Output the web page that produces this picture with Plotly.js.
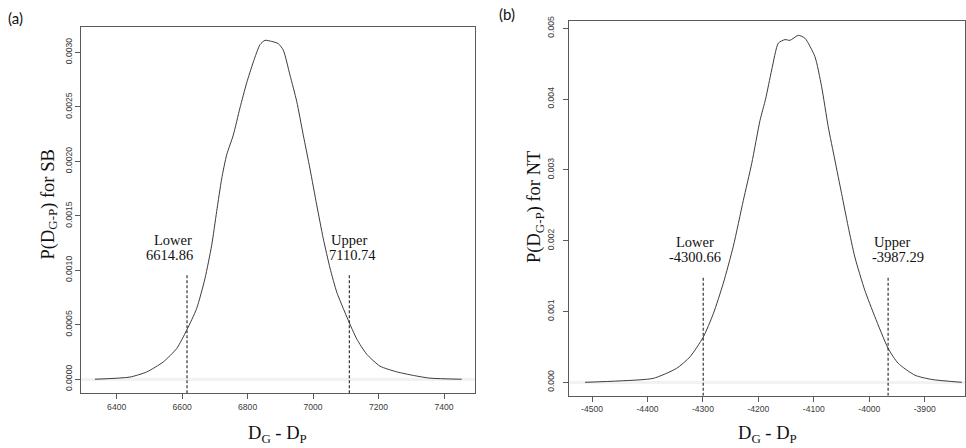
<!DOCTYPE html>
<html>
<head>
<meta charset="utf-8">
<script src="https://cdn.plot.ly/plotly-3.0.1.min.js"></script>
<style>
  html, body { margin: 0; padding: 0; background: #ffffff; }
  #chart { width: 966px; height: 448px; }
</style>
</head>
<body>
<div id="chart"></div>
<script>
// ---------- Panel (a): SB ----------
const sbX = [6333.7, 6440.6, 6491.7, 6542.4, 6583.3, 6613.9, 6644.4, 6669.8, 6690.3, 6705.5,
             6720.8, 6736.1, 6756.2, 6776.7, 6797.2, 6817.3, 6837.8, 6853.1, 6873.6, 6893.7,
             6909.0, 6929.5, 6950.0, 6970.1, 6990.6, 7011.1, 7031.2, 7051.7, 7072.2, 7092.3,
             7107.6, 7133.3, 7163.8, 7204.5, 7255.5, 7306.2, 7357.2, 7454.1];
const sbY = [0.0, 0.00002, 0.000067, 0.000159, 0.000282, 0.00045, 0.00065, 0.000925, 0.00123, 0.00154,
             0.00184, 0.00206, 0.00224, 0.00249, 0.00272, 0.00291, 0.00307, 0.00311, 0.00310, 0.00308,
             0.00302, 0.00279, 0.00255, 0.00224, 0.00193, 0.00160, 0.00129, 0.00102, 0.00080, 0.00065,
             0.00054, 0.00037, 0.000230, 0.000120, 0.000068, 0.000035, 0.000010, 0.0];
const sbBounds = [6614.86, 7110.74];
const sbBoundLabels = ["Lower", "Upper"];
const sbBoundTop = 0.00096;

// ---------- Panel (b): NT ----------
const ntX = [-4512.6, -4449.5, -4389.5, -4347.3, -4323.3, -4299.3, -4281.2, -4263.2, -4245.2, -4227.1,
             -4212.0, -4197.0, -4187.0, -4176.0, -4164.0, -4152.0, -4143.0, -4128.0, -4116.0, -4098.0,
             -4086.0, -4074.0, -4062.0, -4050.0, -4038.0, -4026.0, -4008.0, -3990.0, -3966.0, -3948.0,
             -3917.5, -3887.0, -3833.0];
const ntY = [0.0, 0.00002, 0.000056, 0.000198, 0.00036, 0.00064, 0.00097, 0.00140, 0.00192, 0.00257,
             0.00309, 0.00370, 0.00400, 0.00441, 0.00479, 0.00484, 0.00483, 0.00490, 0.00486, 0.00460,
             0.00418, 0.00361, 0.00314, 0.00267, 0.00220, 0.00177, 0.00130, 0.00093, 0.00048, 0.00027,
             0.00010, 0.00004, 0.0];
const ntBounds = [-4300.66, -3987.29];
const ntBoundLinesX = [-4299.5, -3966.0];   // where the dashed lines are drawn in the figure
const ntBoundLabels = ["Lower", "Upper"];
const ntBoundTop = 0.0015;

// tick labels
const sbXTicks = [6400, 6600, 6800, 7000, 7200, 7400];
const sbYTicks = [0, 0.0005, 0.001, 0.0015, 0.002, 0.0025, 0.003];
const ntXTicks = [-4500, -4400, -4300, -4200, -4100, -4000, -3900];
const ntXTickText = ["-4500", "-4400", "-4300", "-4200", "-4100", "-4000", "-3900"];
const ntYTicks = [0, 0.001, 0.002, 0.003, 0.004, 0.005];

const yA = [-0.000129, 0.003235];
const yB = [-0.000189, 0.005103];

const curveColor = '#3c3c3c';
const serif = '"Liberation Serif", "Times New Roman", serif';
const sans = '"Liberation Sans", Arial, sans-serif';

const traces = [
  { x: sbX, y: sbY, xaxis: 'x', yaxis: 'y', mode: 'lines', type: 'scatter',
    line: { color: curveColor, width: 1, shape: 'spline', smoothing: 0.6 }, hoverinfo: 'skip' },
  { x: ntX, y: ntY, xaxis: 'x2', yaxis: 'y2', mode: 'lines', type: 'scatter',
    line: { color: curveColor, width: 1, shape: 'spline', smoothing: 0.6 }, hoverinfo: 'skip' }
];
sbBounds.forEach(b => traces.push({ x: [b, b], y: [yA[0], sbBoundTop], xaxis: 'x', yaxis: 'y',
  mode: 'lines', type: 'scatter', line: { color: '#222', width: 1.1, dash: '3px,2px' }, hoverinfo: 'skip' }));
ntBoundLinesX.forEach(b => traces.push({ x: [b, b], y: [yB[0], ntBoundTop], xaxis: 'x2', yaxis: 'y2',
  mode: 'lines', type: 'scatter', line: { color: '#222', width: 1.1, dash: '3px,2px' }, hoverinfo: 'skip' }));

const tickFont = { family: sans, size: 8.6, color: '#3a3a3a' };
const axisCommon = {
  showgrid: false, showline: true, mirror: true, linecolor: '#5a5a5a', linewidth: 1,
  ticks: 'outside', ticklen: 5, tickcolor: '#5a5a5a', tickwidth: 1,
  tickfont: tickFont, zeroline: false, fixedrange: true
};

const labelFont = { family: serif, size: 14.5, color: '#111' };
function ann(text, x, y, xref, yref, extra) {
  return Object.assign({ text: text, x: x, y: y, xref: xref, yref: yref, showarrow: false,
    xanchor: 'center', yanchor: 'middle', font: labelFont }, extra || {});
}

const titleFont = { family: serif, size: 18.5, color: '#111' };
const letterFont = { family: 'Lato, "Open Sans", sans-serif', size: 15, color: '#111' };

const annotations = [
  // bound labels (a)
  ann(sbBoundLabels[0], 6572, 0.001276, 'x', 'y'),
  ann(sbBounds[0].toFixed(2), 6562, 0.001139, 'x', 'y'),
  ann(sbBoundLabels[1], 7110, 0.001276, 'x', 'y'),
  ann(sbBounds[1].toFixed(2), 7119, 0.001139, 'x', 'y'),
  // bound labels (b)
  ann(ntBoundLabels[0], -4314, 0.001986, 'x2', 'y2'),
  ann(ntBounds[0].toFixed(2), -4315, 0.001766, 'x2', 'y2'),
  ann(ntBoundLabels[1], -3959.5, 0.001986, 'x2', 'y2'),
  ann(ntBounds[1].toFixed(2), -3947.6, 0.001766, 'x2', 'y2'),
  // axis titles
  ann('P(D<sub>G-P</sub>) for SB', 49 / 966, (448 - 204.5) / 448, 'paper', 'paper',
      { textangle: -90, font: titleFont }),
  ann('P(D<sub>G-P</sub>) for NT', 535.5 / 966, (448 - 207.5) / 448, 'paper', 'paper',
      { textangle: -90, font: titleFont }),
  ann('D<sub>G</sub> - D<sub>P</sub>', 277 / 966, 0.5 / 448, 'paper', 'paper',
      { font: titleFont, yanchor: 'bottom' }),
  ann('D<sub>G</sub> - D<sub>P</sub>', 767 / 966, 0.5 / 448, 'paper', 'paper',
      { font: titleFont, yanchor: 'bottom' }),
  // panel letters
  ann('(a)', 15.5 / 966, (448 - 18) / 448, 'paper', 'paper', { font: letterFont }),
  ann('(b)', 506.5 / 966, (448 - 14.5) / 448, 'paper', 'paper', { font: letterFont })
];

const layout = {
  width: 966, height: 448,
  margin: { l: 0, r: 0, t: 0, b: 0 },
  paper_bgcolor: '#ffffff', plot_bgcolor: '#ffffff',
  showlegend: false,
  xaxis: Object.assign({}, axisCommon, {
    domain: [81 / 966, 475 / 966], anchor: 'y', range: [6291, 7494.7],
    tickvals: sbXTicks, ticktext: sbXTicks.map(String)
  }),
  yaxis: Object.assign({}, axisCommon, {
    domain: [(448 - 393.3) / 448, (448 - 26.7) / 448], anchor: 'x', range: yA,
    tickvals: sbYTicks, tickformat: '.4f', tickangle: -90,
    zeroline: true, zerolinecolor: '#f2f2f2', zerolinewidth: 3
  }),
  xaxis2: Object.assign({}, axisCommon, {
    domain: [569.3 / 966, 965 / 966], anchor: 'y2', range: [-4541, -3827.3],
    tickvals: ntXTicks, ticktext: ntXTickText
  }),
  yaxis2: Object.assign({}, axisCommon, {
    domain: [(448 - 395.7) / 448, (448 - 21) / 448], anchor: 'x2', range: yB,
    tickvals: ntYTicks, tickformat: '.3f', tickangle: -90, ticklabelstandoff: 6,
    zeroline: true, zerolinecolor: '#f2f2f2', zerolinewidth: 3
  }),
  annotations: annotations
};

Plotly.newPlot('chart', traces, layout, { displayModeBar: false, staticPlot: true });
</script>
</body>
</html>
